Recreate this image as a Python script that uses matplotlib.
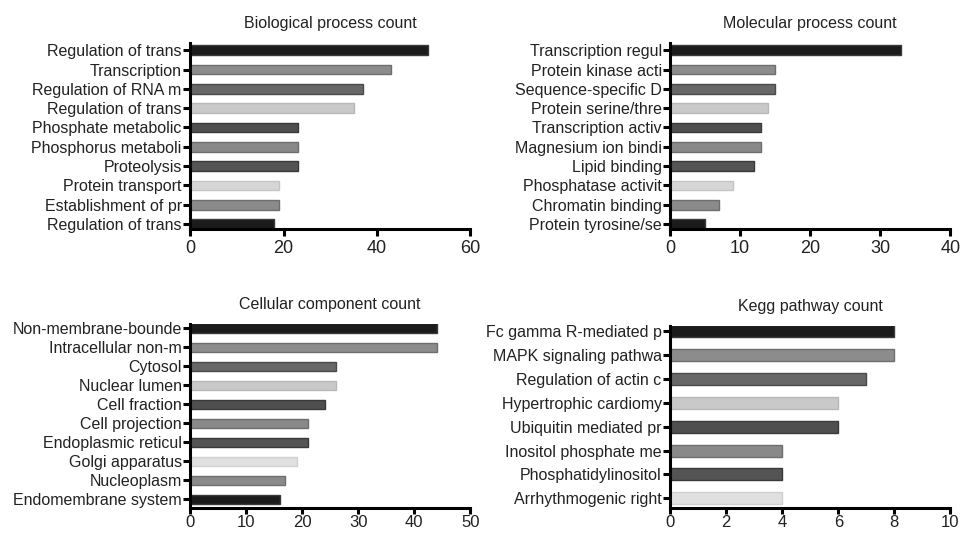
import matplotlib
matplotlib.use("Agg")
from matplotlib import pyplot as plt

plt.rcParams['font.family'] = ['Liberation Sans', 'DejaVu Sans']
plt.rcParams['font.size'] = 11.5
plt.rcParams['text.color'] = '#222222'
plt.rcParams['xtick.labelcolor'] = '#222222'
plt.rcParams['ytick.labelcolor'] = '#222222'

# GO / KEGG term counts
bp_terms = ["Regulation of trans", "Transcription", "Regulation of RNA m",
            "Regulation of trans", "Phosphate metabolic", "Phosphorus metaboli",
            "Proteolysis", "Protein transport", "Establishment of pr",
            "Regulation of trans"]
bp_counts = [51, 43, 37, 35, 23, 23, 23, 19, 19, 18]

mf_terms = ["Transcription regul", "Protein kinase acti", "Sequence-specific D",
            "Protein serine/thre", "Transcription activ", "Magnesium ion bindi",
            "Lipid binding", "Phosphatase activit", "Chromatin binding",
            "Protein tyrosine/se"]
mf_counts = [33, 15, 15, 14, 13, 13, 12, 9, 7, 5]

cc_terms = ["Non-membrane-bounde", "Intracellular non-m", "Cytosol",
            "Nuclear lumen", "Cell fraction", "Cell projection",
            "Endoplasmic reticul", "Golgi apparatus", "Nucleoplasm",
            "Endomembrane system"]
cc_counts = [44, 44, 26, 26, 24, 21, 21, 19, 17, 16]

kegg_terms = ["Fc gamma R-mediated p", "MAPK signaling pathwa",
              "Regulation of actin c", "Hypertrophic cardiomy",
              "Ubiquitin mediated pr", "Inositol phosphate me",
              "Phosphatidylinositol", "Arrhythmogenic right"]
kegg_counts = [8, 8, 7, 6, 6, 4, 4, 4]

shades = ["#1b1b1b", "#8c8c8c", "#676767", "#c9c9c9", "#4f4f4f",
          "#898989", "#545454", "#d6d6d6", "#8a8a8a", "#1b1b1b"]
edges = ["#3a3a3a", "#6e6e6e", "#4a4a4a", "#b8b8b8", "#3a3a3a",
         "#6e6e6e", "#3a3a3a", "#c4c4c4", "#6e6e6e", "#3a3a3a"]

fig = plt.figure(figsize=(9.6, 5.33), dpi=100)

panels = [
    ([0.198, 0.570, 0.292, 0.349], bp_terms, bp_counts, "Biological process count", 60, 20, (9.27, -0.37), False),
    ([0.698, 0.570, 0.292, 0.349], mf_terms, mf_counts, "Molecular process count", 40, 10, (9.27, -0.37), False),
    ([0.198, 0.047, 0.292, 0.345], cc_terms, cc_counts, "Cellular component count", 50, 10, (9.45, -0.22), True),
    ([0.698, 0.047, 0.292, 0.341], kegg_terms, kegg_counts, "Kegg pathway count", 10, 2, (7.4, -0.2), True),
]

for rect, terms, counts, title, xmax, step, ylim, lower in panels:
    ax = fig.add_axes(rect)
    n = len(terms)
    ypos = list(range(n))
    if n == 8:
        cols = shades[:7] + ["#e0e0e0"]
        ecols = edges[:7] + ["#d0d0d0"]
    elif title.startswith("Cellular"):
        cols = shades[:7] + ["#e0e0e0"] + shades[8:]
        ecols = edges[:7] + ["#d0d0d0"] + edges[8:]
    else:
        cols = shades
        ecols = edges
    ax.barh(ypos, counts, height=0.5, color=cols, edgecolor=ecols, linewidth=1.0)
    ax.set_yticks(ypos)
    ax.set_yticklabels(terms)
    ax.set_ylim(*ylim)
    ax.set_xlim(0, xmax)
    ax.set_xticks(range(0, xmax + 1, step))
    for s in ["top", "right"]:
        ax.spines[s].set_visible(False)
    for s in ["left", "bottom"]:
        ax.spines[s].set_linewidth(2.2)
    ax.tick_params(axis="y", direction="out", length=5, width=2.2, pad=1)
    if lower:
        ax.tick_params(axis="x", direction="out", length=4, width=2.2, pad=1, labelsize=12)
    else:
        ax.tick_params(axis="x", direction="out", length=5, width=2.2, pad=3, labelsize=13)
    ax.set_title(title, fontsize=11.5, pad=11)

plt.savefig("out.png", dpi=100)
